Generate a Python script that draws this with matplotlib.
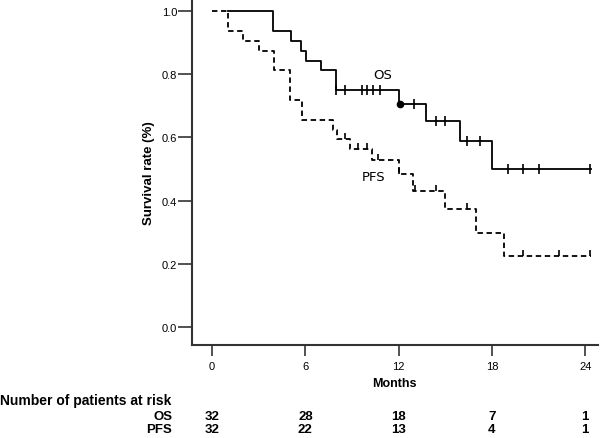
import numpy as np
import matplotlib
matplotlib.use("Agg")
import matplotlib.pyplot as plt
from matplotlib import font_manager
from matplotlib.transforms import blended_transform_factory

# Kaplan-Meier steps (months, survival)
os_times = [1.0, 3.9, 5.05, 5.75, 6.05, 7.0, 8.0, 12.03, 13.76, 15.97, 18.0]
os_surv = [1.0, 0.9375, 0.906, 0.875, 0.844, 0.8125, 0.75, 0.706, 0.651, 0.589, 0.50]
os_end = 24.4
os_censor = [8.0, 8.55, 9.63, 9.99, 10.38, 10.77, 13.0, 14.4, 15.0, 16.4, 17.2,
             19.0, 20.0, 21.0, 24.3]
os_dot = [12.1]

pfs_times = [0.0, 1.05, 2.0, 3.05, 4.0, 5.0, 5.77, 7.8, 8.06, 8.9, 10.3, 12.0,
             12.95, 15.0, 17.0, 18.8]
pfs_surv = [1.0, 0.9375, 0.906, 0.875, 0.8125, 0.719, 0.656, 0.625, 0.594,
            0.5625, 0.528, 0.483, 0.43, 0.372, 0.296, 0.224]
pfs_end = 24.4
pfs_censor = [8.55, 9.4, 9.95, 10.7, 12.05, 13.05, 14.4, 16.4, 20.0, 22.3, 24.3]

xticks = [0, 6, 12, 18, 24]
yticks = [0.0, 0.2, 0.4, 0.6, 0.8, 1.0]
risk_os = [32, 28, 18, 7, 1]
risk_pfs = [32, 22, 13, 4, 1]

names = {f.name for f in font_manager.fontManager.ttflist}
base = "Liberation Sans" if "Liberation Sans" in names else "DejaVu Sans"
plt.rcParams["font.family"] = [base, "DejaVu Sans"]


def surv_at(times, surv, t):
    i = np.searchsorted(times, t, side="right") - 1
    return np.asarray(surv)[i]


fig = plt.figure(figsize=(6, 4.39), dpi=100)
ax = fig.add_axes([0.3195, 0.2125, 0.6772, 0.7875])

ax.step(os_times + [os_end], os_surv + [os_surv[-1]], where="post",
        color="black", lw=1.3, zorder=3)
ax.step(pfs_times + [pfs_end], pfs_surv + [pfs_surv[-1]], where="post",
        color="black", lw=1.3, dashes=(3, 2), zorder=2)

ax.plot(os_censor, surv_at(os_times, os_surv, os_censor), ls="none",
        marker="|", ms=6.5, mew=1.2, color="black", zorder=4)
ax.plot(os_dot, surv_at(os_times, os_surv, os_dot), ls="none",
        marker="o", ms=4.5, color="black", zorder=4)
ax.plot(pfs_censor, surv_at(pfs_times, pfs_surv, pfs_censor), ls="none",
        marker=2, ms=4, mew=1.2, color="black", zorder=4)

ax.text(11.0, 0.80, "OS", ha="center", va="center", fontsize=9.5,
        family="DejaVu Sans")
ax.text(10.37, 0.476, "PFS", ha="center", va="center", fontsize=9.5,
        family="DejaVu Sans")

ax.set_xlim(-1.305, 24.82)
ax.set_ylim(-0.057, 1.039)
ax.set_xticks(xticks)
ax.set_yticks(yticks)
ax.set_yticklabels(["%.1f" % v for v in yticks])
ax.tick_params(axis="both", direction="out", width=1.2,
               labelsize=8, color="#333333")
ax.tick_params(axis="y", length=10, pad=0.5)
ax.tick_params(axis="x", length=8, pad=4)
for s in ["top", "right"]:
    ax.spines[s].set_visible(False)
for s in ["left", "bottom"]:
    ax.spines[s].set_linewidth(1.5)
    ax.spines[s].set_color("#333333")

ax.set_ylabel("Survival rate (%)", fontsize=9.5, fontweight="bold", labelpad=5)
ax.set_xlabel("Months", fontsize=9, fontweight="bold", labelpad=4)

# number at risk table
tr = blended_transform_factory(ax.transData, fig.transFigure)
row_os, row_pfs = 0.0505, 0.0205
fig.text(0.0, 0.0866, "Number of patients at risk", ha="left", va="center",
         fontsize=10, fontweight="bold")
fig.text(0.287, row_os, "OS", ha="right", va="center", fontsize=9.5,
         fontweight="bold")
fig.text(0.287, row_pfs, "PFS", ha="right", va="center", fontsize=9.5,
         fontweight="bold")
for x, a, b in zip(xticks, risk_os, risk_pfs):
    ax.text(x, row_os, str(a), transform=tr, ha="center", va="center",
            fontsize=9.5, fontweight="bold", clip_on=False)
    ax.text(x, row_pfs, str(b), transform=tr, ha="center", va="center",
            fontsize=9.5, fontweight="bold", clip_on=False)

fig.savefig("out.png", dpi=100)
